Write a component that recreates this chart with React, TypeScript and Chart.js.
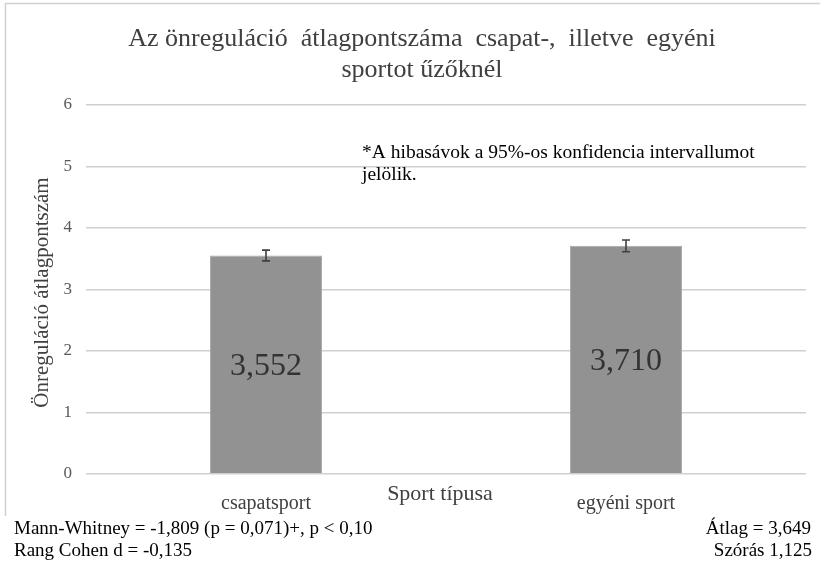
import React, { useEffect, useRef } from "react";
import { Chart, registerables } from "chart.js";

Chart.register(...registerables);

const categories = ["csapatsport", "egyéni sport"];
const means = [3.552, 3.71];
const ciLower = [3.465, 3.615];
const ciUpper = [3.64, 3.805];
const valueLabels = ["3,552", "3,710"];
const yTicks = [0, 1, 2, 3, 4, 5, 6];
const titleLines = ["Az önreguláció  átlagpontszáma  csapat-,  illetve  egyéni", "sportot űzőknél"];
const noteLines = ["*A hibasávok a 95%-os konfidencia intervallumot", "jelölik."];
const xAxisTitle = "Sport típusa";
const yAxisTitle = "Önreguláció átlagpontszám";
const statsLeft = ["Mann-Whitney = -1,809 (p = 0,071)+, p < 0,10", "Rang Cohen d = -0,135"];
const statsRight = ["Átlag = 3,649", "Szórás 1,125"];

const SERIF = "'Liberation Serif', 'DejaVu Serif', serif";

const overlayPlugin = {
  id: "overlay",
  afterDatasetsDraw(chart: any) {
    const ctx = chart.ctx;
    const y = chart.scales.y;
    const meta = chart.getDatasetMeta(0);
    ctx.save();
    ctx.strokeStyle = "#404040";
    ctx.lineWidth = 1.6;
    meta.data.forEach((bar: any, i: number) => {
      const cx = bar.x;
      const yt = y.getPixelForValue(ciUpper[i]);
      const yb = y.getPixelForValue(ciLower[i]);
      ctx.beginPath();
      ctx.moveTo(cx, yt);
      ctx.lineTo(cx, yb);
      ctx.moveTo(cx - 4, yt);
      ctx.lineTo(cx + 4, yt);
      ctx.moveTo(cx - 4, yb);
      ctx.lineTo(cx + 4, yb);
      ctx.stroke();
    });
    ctx.fillStyle = "#333333";
    ctx.font = `32px ${SERIF}`;
    ctx.textAlign = "center";
    ctx.textBaseline = "middle";
    meta.data.forEach((bar: any, i: number) => {
      const mid = y.getPixelForValue(means[i] / 2);
      ctx.fillText(valueLabels[i], bar.x, mid + 2);
    });
    ctx.restore();
  },
  afterDraw(chart: any) {
    const ctx = chart.ctx;
    const area = chart.chartArea;
    ctx.save();
    ctx.strokeStyle = "#d0d0d0";
    ctx.lineWidth = 1.5;
    ctx.beginPath();
    ctx.moveTo(5.5, 516);
    ctx.lineTo(5.5, 3.5);
    ctx.lineTo(820, 3.5);
    ctx.stroke();
    ctx.fillStyle = "#404040";
    ctx.font = `26px ${SERIF}`;
    ctx.textAlign = "center";
    ctx.textBaseline = "middle";
    ctx.fillText(titleLines[0], 422, 39);
    ctx.fillText(titleLines[1], 422, 70);
    ctx.fillStyle = "#000000";
    ctx.font = `19.5px ${SERIF}`;
    ctx.textAlign = "left";
    ctx.fillText(noteLines[0], 362, 153);
    ctx.fillText(noteLines[1], 362, 175);
    ctx.fillStyle = "#404040";
    ctx.font = `22px ${SERIF}`;
    ctx.textAlign = "center";
    ctx.fillText(xAxisTitle, 440, 494);
    ctx.save();
    ctx.translate(42, (area.top + area.bottom) / 2 + 3);
    ctx.rotate(-Math.PI / 2);
    ctx.font = `21px ${SERIF}`;
    ctx.fillText(yAxisTitle, 0, 0);
    ctx.restore();
    ctx.fillStyle = "#000000";
    ctx.font = `19px ${SERIF}`;
    ctx.textAlign = "left";
    ctx.fillText(statsLeft[0], 14, 529);
    ctx.fillText(statsLeft[1], 14, 551);
    ctx.textAlign = "right";
    ctx.fillText(statsRight[0], 811, 529);
    ctx.fillText(statsRight[1], 812, 551);
    ctx.restore();
  },
};

export default function App() {
  const ref = useRef<HTMLCanvasElement | null>(null);
  useEffect(() => {
    document.body.style.margin = "0";
    if (!ref.current) return;
    const chart = new Chart(ref.current, {
      type: "bar",
      data: {
        labels: categories,
        datasets: [
          {
            data: means,
            backgroundColor: "#929292",
            borderColor: "#a8a8a8",
            borderWidth: 1,
            categoryPercentage: 1,
            barPercentage: 0.311,
          },
        ],
      },
      options: {
        animation: false,
        responsive: false,
        layout: { padding: { left: 0, right: 14, top: 105, bottom: 0 } },
        plugins: { legend: { display: false }, tooltip: { enabled: false }, title: { display: false } },
        scales: {
          x: {
            grid: { display: false },
            border: { display: false },
            ticks: { color: "#404040", font: { family: SERIF, size: 20 }, padding: 10 },
            afterFit(scale: any) {
              scale.height = 89;
            },
          },
          y: {
            min: 0,
            max: 6,
            afterBuildTicks(scale: any) {
              scale.ticks = yTicks.map((v) => ({ value: v }));
            },
            grid: { color: "#d0d0d0", lineWidth: 1.5, drawTicks: false },
            border: { display: false },
            ticks: { color: "#595959", font: { family: SERIF, size: 17 }, padding: 14 },
            afterFit(scale: any) {
              scale.width = 86;
            },
          },
        },
      },
      plugins: [overlayPlugin],
    });
    return () => chart.destroy();
  }, []);
  return (
    <div style={{ position: "absolute", left: 0, top: 0, width: 820, height: 563, background: "#fff" }}>
      <canvas ref={ref} width={820} height={563} style={{ width: 820, height: 563 }} />
    </div>
  );
}
